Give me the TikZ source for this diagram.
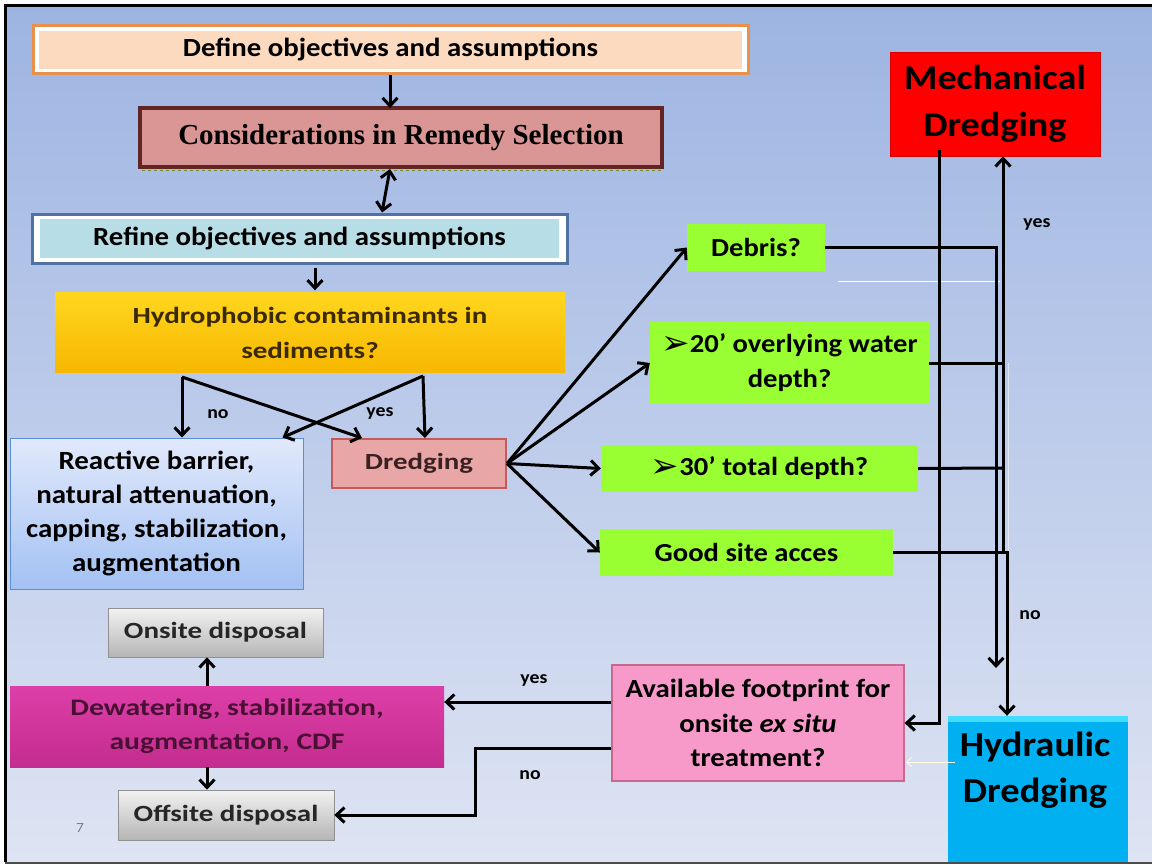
\documentclass[tikz,border=0pt]{standalone}
\usepackage{fontspec}
\setmainfont{Carlito}[FakeStretch=1.1]
\newfontfamily\wider{Carlito}[FakeStretch=1.25]
\newfontfamily\serifb{Liberation Serif}
\newfontfamily\dejavu{DejaVu Sans}
\usetikzlibrary{arrows.meta,calc}
\newcommand\myfs[2]{\fontsize{#1}{#2}\selectfont}
\newcommand\bulletarrow{\smash{\dejavu\mdseries\myfs{34}{35}\raisebox{-1.5pt}{➢}}}
\definecolor{bgtop}{HTML}{9DB4E2}
\definecolor{bgbot}{HTML}{DEE4F3}
\definecolor{defborder}{HTML}{E8914A}
\definecolor{deffill}{HTML}{FCDAC0}
\definecolor{consfill}{HTML}{D99694}
\definecolor{consborder}{HTML}{632523}
\definecolor{refborder}{HTML}{4F72A3}
\definecolor{reffill}{HTML}{B7DEE6}
\definecolor{goldtop}{HTML}{FFD61F}
\definecolor{goldbot}{HTML}{F7B700}
\definecolor{browntext}{HTML}{3B2A00}
\definecolor{reactop}{HTML}{E1E9FB}
\definecolor{reacbot}{HTML}{A3C1F3}
\definecolor{reacborder}{HTML}{5C8ED8}
\definecolor{dredfill}{HTML}{E9A6A6}
\definecolor{dredborder}{HTML}{C45A5A}
\definecolor{dredtext}{HTML}{3A2020}
\definecolor{lime}{HTML}{99FF33}
\definecolor{mechred}{HTML}{FF0000}
\definecolor{hydblue}{HTML}{00B0F0}
\definecolor{hydtop}{HTML}{40DDFF}
\definecolor{availfill}{HTML}{F799C9}
\definecolor{availborder}{HTML}{C9678F}
\definecolor{dewtop}{HTML}{DD3FA8}
\definecolor{dewbot}{HTML}{C42C8E}
\definecolor{dewtext}{HTML}{4A1034}
\definecolor{greytop}{HTML}{F2F2F2}
\definecolor{greybot}{HTML}{B5B5B5}
\definecolor{greytext}{HTML}{262626}
\definecolor{olivedash}{HTML}{6E8B2E}
\begin{document}
\begin{tikzpicture}[x=1pt,y=-1pt,
  box/.style={inner sep=0pt, align=center, font=\bfseries},
  arr/.style={line width=3pt, -{Straight Barb[length=8pt,width=15pt]}},
  dblarr/.style={line width=3pt, {Straight Barb[length=8pt,width=15pt]}-{Straight Barb[length=8pt,width=15pt]}},
  plain/.style={line width=3pt},
  lbl/.style={font=\bfseries\myfs{18}{20}, inner sep=0pt},
  greenbox/.style={box, fill=lime, font=\bfseries\myfs{26}{35}},
  greybox/.style={box, top color=greytop, bottom color=greybot, draw=greybot!80!black, line width=0.6pt, font=\wider\bfseries\myfs{23.2}{28}, text=greytext}
]
\useasboundingbox (0,0) rectangle (1152,865);
\fill[white] (0,0) rectangle (1152,865);
\fill[top color=bgtop, bottom color=bgbot] (5,5) rectangle (1152,862);

% top boxes
\node[box, draw=defborder, line width=3pt, fill=white, minimum width=715pt, minimum height=48pt,
  path picture={\fill[deffill] ([shift={(6pt,5pt)}]path picture bounding box.south west) rectangle ([shift={(-6pt,-5pt)}]path picture bounding box.north east);},
  font=\bfseries\myfs{26.2}{30}] (define) at (390.5,49.5) {Define objectives and assumptions};

\draw[olivedash, dashed, line width=1pt] (142,170) -- (662,170);
\node[box, draw=consborder, line width=4pt, fill=consfill, minimum width=522pt, minimum height=59pt,
  font=\serifb\bfseries\myfs{29}{32}] (cons) at (401,137.5) {Considerations in Remedy Selection};

\node[box, draw=refborder, line width=3pt, fill=white, minimum width=535pt, minimum height=49pt,
  path picture={\fill[reffill] ([shift={(8pt,5pt)}]path picture bounding box.south west) rectangle ([shift={(-8pt,-5pt)}]path picture bounding box.north east);},
  font=\bfseries\myfs{26.2}{30}] (refine) at (299.5,238.5) {Refine objectives and assumptions};

\node[box, top color=goldtop, bottom color=goldbot, minimum width=510pt, minimum height=80pt,
  font=\wider\bfseries\myfs{23.2}{35}, text=browntext] (hydro) at (310,332.5) {Hydrophobic contaminants in\\sediments?};

\node[box, top color=reactop, bottom color=reacbot, draw=reacborder, line width=1pt, minimum width=293pt, minimum height=151pt,
  font=\bfseries\myfs{26.3}{34.3}] (reac) at (156.5,513.5) {Reactive barrier,\\natural attenuation,\\capping, stabilization,\\augmentation};

\node[box, fill=dredfill, draw=dredborder, line width=2pt, minimum width=174pt, minimum height=49pt,
  font=\wider\bfseries\myfs{23.1}{26}, text=dredtext] (dredge) at (419,463.5) {Dredging};

% green boxes
\node[greenbox, minimum width=138pt, minimum height=47pt] (debris) at (756,247.5) {Debris?};
\node[greenbox, minimum width=279pt, minimum height=82pt] (twenty) at (789.5,363) {\bulletarrow 20’ overlying water\\depth?};
\node[greenbox, minimum width=317pt, minimum height=47pt] (thirty) at (759.5,468.5) {\bulletarrow 30’ total depth?};
\node[greenbox, minimum width=293pt, minimum height=47pt] (good) at (746.5,552.5) {Good site acces};

% right boxes
\node[box, fill=mechred, draw=mechred!85!black, line width=0.6pt, minimum width=210pt, minimum height=104pt,
  font=\bfseries\myfs{34.7}{47}] (mech) at (995,104) {Mechanical\\Dredging};
\node[box, fill=hydblue, minimum width=180pt, minimum height=146pt] (hyd) at (1038,789) {};
\fill[hydtop] (948,716) rectangle (1128,722);
\node[box, font=\bfseries\myfs{35}{46}, inner sep=0pt] (hydtext) at (1035,770) {Hydraulic\\Dredging};

% bottom boxes
\node[box, fill=availfill, draw=availborder, line width=1.2pt, minimum width=292pt, minimum height=116pt,
  font=\bfseries\myfs{26.2}{34.5}] (avail) at (758,723) {Available footprint for\\onsite \textit{ex situ}\\treatment?};
\node[box, top color=dewtop, bottom color=dewbot, minimum width=434pt, minimum height=81pt,
  font=\wider\bfseries\myfs{23.7}{34}, text=dewtext] (dew) at (227,726.5) {Dewatering, stabilization,\\augmentation, CDF};
\node[greybox, minimum width=215pt, minimum height=49pt] (on) at (215.5,632.5) {Onsite disposal};
\node[greybox, minimum width=216pt, minimum height=50pt] (off) at (226,815) {Offsite disposal};
\node[font=\myfs{14}{16}, text=gray, inner sep=0pt] (pagenum) at (80,828) {7};

% connectors top
\draw[arr] (define.south -| 390,0) -- (390,108);
\draw[dblarr] ($(cons.south)+(-11,0)$) -- ($(refine.north)+(82.5,0)$);
\draw[arr] ($(refine.south)+(15.5,3)$) -- ($(hydro.north)+(5,-2)$);

\coordinate (hL) at (182,377);
\coordinate (hR) at (423,376);
\draw[arr] (hL) -- (hL |- reac.north);
\draw[arr] (hL) -- ($(dredge.north west)+(31,0)$);
\draw[arr] (hR) -- ($(dredge.north)+(6,0)$);
\draw[arr] (hR) -- ($(reac.north east)+(-21,0)$);
\node[lbl] (lno1) at (218,414) {no};
\node[lbl] (lyes1) at (380,413) {yes};

% fan
\draw[arr] (dredge.east) -- (debris.west);
\draw[arr] (dredge.east) -- (twenty.west);
\draw[arr] (dredge.east) -- (thirty.west);
\draw[arr] (dredge.east) -- (good.west);

% right network
\draw[white, line width=1pt] (838,281) -- (1000,281);
\draw[white, opacity=0.5, line width=0.6pt] (1008,363) -- (1008,552);
\coordinate (mx) at (939,150);
\draw[arr] (mx) |- (avail.east);
\coordinate (dend) at (996,668);
\draw[arr] (debris.east) -| (dend);
\draw[plain] (twenty.east) -- (1003,363);
\draw[plain] (thirty.east) -- (1003,468);
\coordinate (yb) at (1003,552);
\draw[arr] (yb) -- ($(mech.south)+(8,0)$);
\draw[arr] (good.east) -| ($(hyd.north)+(-31,0)$);
\draw[white!90!yellow, line width=0.8pt, -{Straight Barb[length=5pt,width=9pt]}] (955,762) -- (906,762);
\node[lbl] (lyes2) at (1037,224) {yes};
\node[lbl] (lno2) at (1030,615) {no};

% bottom connectors
\coordinate (a1) at ($(avail.west)+(0,-21)$);
\draw[arr] (a1) -- (a1 -| dew.east);
\coordinate (a2) at ($(avail.west)+(0,25)$);
\draw[arr] (a2) -| ($(off.east)+(141,0)$) -- (off.east);
\node[lbl] (lyes3) at (534,680) {yes};
\node[lbl] (lno3) at (530,775) {no};
\draw[arr] ($(dew.north)+(-20,0)$) -- ($(on.south)+(-8.5,0)$);
\draw[arr] ($(dew.south)+(-20,0)$) -- ($(off.north)+(-19,0)$);

% frame
\draw[line width=3pt] (1160,5) -- (5,5) -- (5,862);
\draw[line width=2pt, gray!60!black] (5,862.5) -- (1160,862.5);
\end{tikzpicture}
\end{document}
